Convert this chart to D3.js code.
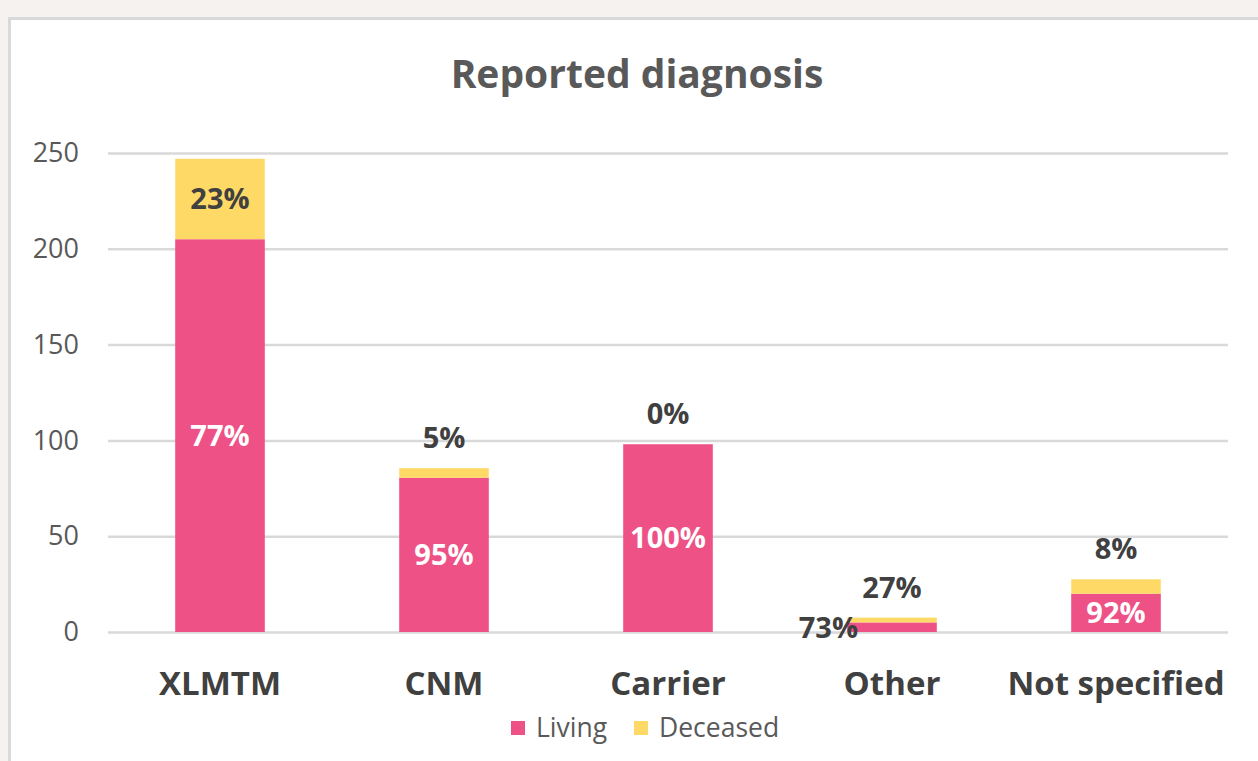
<!DOCTYPE html>
<html>
<head>
<meta charset="utf-8">
<script src="https://cdn.jsdelivr.net/npm/d3@7"></script>
<style>
  body { margin: 0; background: #f6f2ef; }
  svg { display: block; font-family: "Open Sans", Lato, sans-serif; }
</style>
</head>
<body>
<div id="chart"></div>
<script>
// Values
const categories = ["XLMTM", "CNM", "Carrier", "Other", "Not specified"];
const living = [205, 80.5, 98, 5, 20];
const deceased = [42, 5, 0, 2.5, 7.5];
const livingLabels = ["77%", "95%", "100%", "73%", "92%"];
const deceasedLabels = ["23%", "5%", "0%", "27%", "8%"];
const yTicks = [0, 50, 100, 150, 200, 250];
const seriesNames = ["Living", "Deceased"];
const seriesColors = ["#ee5186", "#ffd966"];

const W = 1258, H = 761;
const plot = { left: 108, right: 1228, top: 153, bottom: 632 };

const svg = d3.select("#chart").append("svg")
    .attr("width", W)
    .attr("height", H);

// white chart panel with grey frame (runs off the right and bottom edges)
svg.append("rect")
    .attr("x", 9.5).attr("y", 18.5)
    .attr("width", W + 20).attr("height", H + 20)
    .attr("fill", "#fff")
    .attr("stroke", "#d9d9d9")
    .attr("stroke-width", 3);

svg.append("text")
    .attr("x", 637).attr("y", 88)
    .attr("text-anchor", "middle")
    .attr("font-size", 39)
    .attr("font-weight", "bold")
    .attr("fill", "#595959")
    .text("Reported diagnosis");

const x = d3.scaleBand().domain(categories)
    .range([plot.left, plot.right])
    .paddingInner(0.6).paddingOuter(0.3);
const y = d3.scaleLinear().domain([0, 250]).range([plot.bottom, plot.top]);

// gridlines + y labels
const yAxis = d3.axisLeft(y).tickValues(yTicks).tickSize(-(plot.right - plot.left)).tickPadding(29);
svg.append("g")
    .attr("transform", `translate(${plot.left},0)`)
    .call(yAxis)
    .call(g => g.select(".domain").remove())
    .call(g => g.selectAll("line").attr("stroke", "#d9d9d9").attr("stroke-width", 2.5))
    .call(g => g.selectAll("text").attr("font-size", 27).attr("fill", "#595959").attr("font-family", "'Open Sans', sans-serif"));

// stacked bars
const rows = categories.map((c, i) => ({ cat: c, living: living[i], deceased: deceased[i], i }));
const stack = d3.stack().keys(["living", "deceased"])(rows);

svg.append("g").selectAll("g").data(stack).join("g")
    .attr("fill", (d, k) => seriesColors[k])
    .selectAll("rect").data(d => d).join("rect")
    .attr("x", d => x(d.data.cat))
    .attr("width", x.bandwidth())
    .attr("y", d => y(d[1]))
    .attr("height", d => y(d[0]) - y(d[1]));

// living labels, centred in pink segment
const lab = svg.append("g").attr("font-weight", "bold").attr("font-size", 29).attr("text-anchor", "middle");
rows.forEach(r => {
    const h = y(0) - y(r.living);
    const small = h < 20;
    lab.append("text")
        .attr("x", x(r.cat) + x.bandwidth() / 2 - (small ? x.bandwidth() * 0.71 : 0))
        .attr("y", small ? y(0) - 4 : (y(0) + y(r.living)) / 2)
        .attr("dy", "0.35em")
        .attr("fill", small ? "#404040" : "#fff")
        .text(livingLabels[r.i]);
});

// deceased labels: inside when the segment is tall, above the bar otherwise
rows.forEach(r => {
    const top = y(r.living + r.deceased);
    const h = y(r.living) - top;
    lab.append("text")
        .attr("x", x(r.cat) + x.bandwidth() / 2)
        .attr("y", h > 30 ? (top + y(r.living)) / 2 : top - 30)
        .attr("dy", "0.35em")
        .attr("fill", "#404040")
        .text(deceasedLabels[r.i]);
});

// category labels
svg.append("g").selectAll("text").data(categories).join("text")
    .attr("x", d => x(d) + x.bandwidth() / 2)
    .attr("y", 683)
    .attr("dy", "0.35em")
    .attr("text-anchor", "middle")
    .attr("font-size", 33)
    .attr("font-weight", "bold")
    .attr("fill", "#404040")
    .text(d => d);

// legend
const legend = svg.append("g").attr("transform", "translate(511,728)");
const items = legend.selectAll("g").data(seriesNames).join("g")
    .attr("transform", (d, k) => `translate(${k * 123},0)`);
items.append("rect")
    .attr("x", 0).attr("y", -7).attr("width", 14).attr("height", 14)
    .attr("fill", (d, k) => seriesColors[k]);
items.append("text")
    .attr("x", 25).attr("dy", "0.35em")
    .attr("font-size", 26.5)
    .attr("fill", "#595959")
    .text(d => d);
</script>
</body>
</html>
